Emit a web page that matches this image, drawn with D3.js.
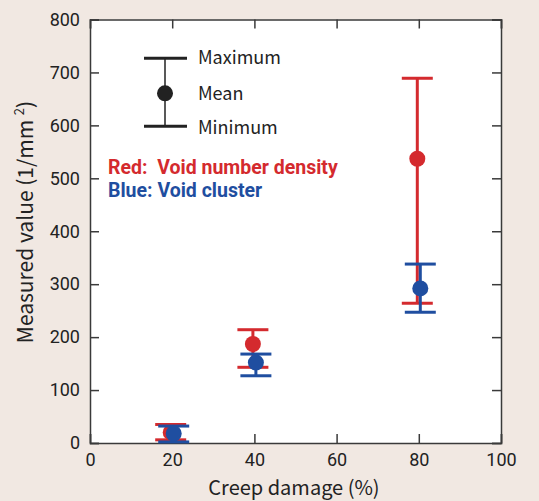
<!DOCTYPE html>
<html><head><meta charset="utf-8">
<script src="https://cdn.jsdelivr.net/npm/d3@7"></script>
<style>
html,body{margin:0;padding:0;background:#f1e8e2;}
svg{display:block;font-family:"Noto Sans CJK JP","Noto Sans",sans-serif;}
</style></head><body>
<svg id="c" width="539" height="501"></svg>
<script>
const creepDamage = [20, 40, 80];
const redMean = [20, 187, 537];
const redMax = [35, 214, 689];
const redMin = [6, 143, 264];
const blueMean = [18, 152, 292];
const blueMax = [32, 168, 338];
const blueMin = [2, 127, 247];
const xTicks = [0, 20, 40, 60, 80, 100];
const yTicks = [0, 100, 200, 300, 400, 500, 600, 700, 800];

const svg = d3.select("#c");
const W = 539, H = 501;
const m = {l: 90, r: 38, t: 19.5, b: 58};
const x = d3.scaleLinear().domain([0, 100]).range([m.l, W - m.r]);
const y = d3.scaleLinear().domain([0, 800]).range([H - m.b, m.t]);

svg.append("rect").attr("width", W).attr("height", H).attr("fill", "#f1e8e2");
svg.append("rect").attr("x", x(0)).attr("y", y(800)).attr("width", x(100) - x(0)).attr("height", y(0) - y(800)).attr("fill", "#fff");

const axCol = "#3a3a3a";
const tl = 9;
const gb = svg.append("g").attr("transform", `translate(0,${y(0)})`)
  .call(d3.axisBottom(x).tickValues(xTicks).tickSize(-tl).tickPadding(10.5));
const gt = svg.append("g").attr("transform", `translate(0,${y(800)})`)
  .call(d3.axisTop(x).tickValues(xTicks).tickSize(-tl).tickFormat(""));
const gl = svg.append("g").attr("transform", `translate(${x(0)},0)`)
  .call(d3.axisLeft(y).tickValues(yTicks).tickSize(-tl).tickPadding(10));
const gr = svg.append("g").attr("transform", `translate(${x(100)},0)`)
  .call(d3.axisRight(y).tickValues(yTicks).tickSize(-tl).tickFormat(""));
[gb, gt, gl, gr].forEach(g => {
  g.select(".domain").attr("stroke", axCol).attr("stroke-width", 1.5);
  g.selectAll(".tick line").attr("stroke", axCol).attr("stroke-width", 1.5);
  g.selectAll(".tick text").attr("fill", "#222").attr("font-size", 18).attr("font-family", "Roboto,sans-serif");
});

svg.append("text").attr("x", 294).attr("y", 494.5).attr("text-anchor", "middle")
  .attr("font-size", 20).attr("fill", "#222").text("Creep damage (%)");
const yt = svg.append("text").attr("transform", `translate(33,${222}) rotate(-90)`)
  .attr("text-anchor", "middle").attr("font-size", 21).attr("fill", "#222");
yt.append("tspan").text("Measured value (1/mm ");
yt.append("tspan").attr("font-size", 13).attr("dy", -9).text("2");
yt.append("tspan").attr("dy", 9).text(")");

const red = "#d42a2e", blue = "#1f4ea0";
function series(mean, mx, mn, col, off) {
  const g = svg.append("g");
  creepDamage.forEach((d, i) => {
    const cx = x(d) + off;
    g.append("line").attr("x1", cx).attr("x2", cx).attr("y1", y(mx[i])).attr("y2", y(mn[i])).attr("stroke", col).attr("stroke-width", 3);
    [mx[i], mn[i]].forEach(v => g.append("line").attr("x1", cx - 15.5).attr("x2", cx + 15.5).attr("y1", y(v)).attr("y2", y(v)).attr("stroke", col).attr("stroke-width", 3));
    g.append("circle").attr("cx", cx).attr("cy", y(mean[i])).attr("r", 8).attr("fill", col);
  });
}
series(redMean, redMax, redMin, red, -1.5);
series(blueMean, blueMax, blueMin, blue, 1.5);

const lg = svg.append("g");
const lx = 165;
lg.append("line").attr("x1", lx).attr("x2", lx).attr("y1", 58.3).attr("y2", 126.3).attr("stroke", "#222").attr("stroke-width", 1.5);
[58.3, 126.3].forEach(v => lg.append("line").attr("x1", 144).attr("x2", 187).attr("y1", v).attr("y2", v).attr("stroke", "#222").attr("stroke-width", 3));
lg.append("circle").attr("cx", lx).attr("cy", 93.3).attr("r", 8).attr("fill", "#222");
[["Maximum", 64], ["Mean", 100], ["Minimum", 134]].forEach(([t, yy]) =>
  lg.append("text").attr("x", 198).attr("y", yy).attr("font-size", 18).attr("fill", "#222").text(t));
lg.append("text").attr("x", 108).attr("y", 174).attr("font-size", 19.5).attr("font-family", "Roboto").attr("font-weight", "bold").attr("fill", red).attr("xml:space", "preserve").text("Red:  Void number density");
lg.append("text").attr("x", 108).attr("y", 197).attr("font-size", 19.5).attr("font-family", "Roboto").attr("font-weight", "bold").attr("fill", blue).text("Blue: Void cluster");
</script>
</body></html>
